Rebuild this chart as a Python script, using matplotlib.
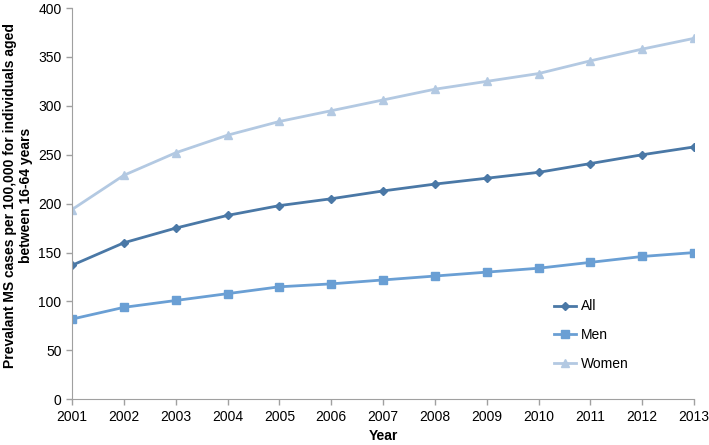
import numpy as np
import matplotlib.pyplot as plt

plt.rcParams['font.family'] = ['Liberation Sans', 'DejaVu Sans']

years = list(range(2001, 2014))
all_cases = [137, 160, 175, 188, 198, 205, 213, 220, 226, 232, 241, 250, 258]
men_cases = [82, 94, 101, 108, 115, 118, 122, 126, 130, 134, 140, 146, 150]
women_cases = [194, 229, 252, 270, 284, 295, 306, 317, 325, 333, 346, 358, 369]

fig = plt.figure(figsize=(7.09, 4.45), dpi=100)
ax = fig.add_axes([0.1016, 0.1027, 0.8774, 0.8793])

ax.plot(years, all_cases, color='#4a78a6', lw=2, marker='D', ms=4, label='All')
ax.plot(years, men_cases, color='#6a9fd4', lw=2, marker='s', ms=6, label='Men')
ax.plot(years, women_cases, color='#b3c9e2', lw=2, marker='^', ms=6, label='Women')

ax.set_xlim(2001, 2013)
ax.set_ylim(0, 400)
ax.set_xticks(years)
ax.set_yticks(np.arange(0, 401, 50))
ax.tick_params(labelsize=10, colors='#a0a0a0', labelcolor='black', length=4, width=1)

for s in ['top', 'right']:
    ax.spines[s].set_visible(False)
for s in ['left', 'bottom']:
    ax.spines[s].set_color('#a0a0a0')

ax.set_xlabel('Year', fontsize=10, fontweight='bold', labelpad=4)
ax.set_ylabel('Prevalant MS cases per 100,000 for individuals aged\nbetween 16-64 years',
              fontsize=10, fontweight='bold')
ax.yaxis.set_label_coords(-0.063, 0.52)

ax.legend(loc='upper left', bbox_to_anchor=(0.755, 0.287), frameon=False, fontsize=10,
          handlelength=1.6, handletextpad=0.3, labelspacing=1.05)

fig.savefig('out.png', dpi=100)
